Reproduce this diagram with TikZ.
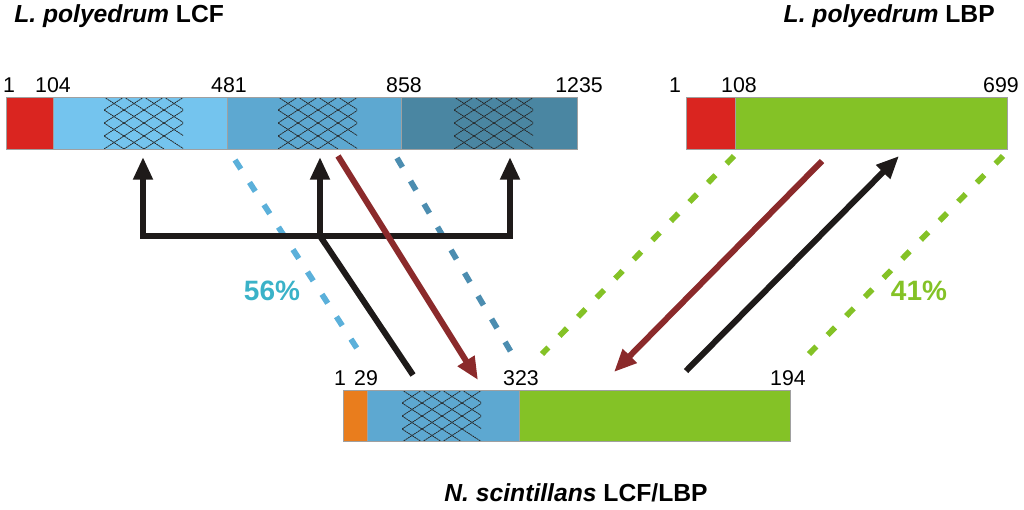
\documentclass[tikz,border=0pt]{standalone}
\usepackage{fontspec}
\setmainfont{Liberation Sans}
\usetikzlibrary{arrows.meta}
\definecolor{cRed}{HTML}{DA2520}
\definecolor{cLBlue}{HTML}{74C4EE}
\definecolor{cMBlue}{HTML}{5DA8D1}
\definecolor{cDBlue}{HTML}{4A86A2}
\definecolor{cGreen}{HTML}{84C226}
\definecolor{cOrange}{HTML}{E97D1D}
\definecolor{cDashL}{HTML}{5BB0DA}
\definecolor{cDashM}{HTML}{4C8DB0}
\definecolor{cArrR}{HTML}{8B2A2B}
\definecolor{cArrK}{HTML}{1E1A19}
\definecolor{cPct}{HTML}{3AB2C8}
\definecolor{cEdge}{HTML}{A0A0A0}
\tikzset{
  seg/.style={draw=cEdge, line width=0.5pt},
  num/.style={font=\fontsize{16}{19}\selectfont, inner sep=0pt, anchor=base},
  ttl/.style={font=\fontsize{18.5}{22}\selectfont\bfseries, inner sep=0pt, anchor=base},
  pct/.style={font=\fontsize{21}{25}\selectfont\bfseries, inner sep=0pt},
  hline/.style={black!85, line width=0.6pt, dash pattern=on 1.3pt off 0.5pt},
  blk/.style={cArrK, line width=4.5pt},
  redarr/.style={cArrR, line width=4.5pt},
  tip/.style={-{Triangle[length=17pt,width=14pt]}},
  dsh/.style={line width=4.3pt, dash pattern=on 8pt off 12pt},
}
\newcommand{\hatchbox}[4]{%
  \begin{scope}
    \clip (#1,#2) rectangle (#3,#4);
    \foreach \i in {-5,...,6}{
      \draw[hline] ({#1+\i*20},#2) -- ++(80,52);
      \draw[hline] ({#1+\i*20},#2) -- ++(-80,52);
    }
  \end{scope}}
\begin{document}
\begin{tikzpicture}[x=0.75pt,y=-0.75pt]
\useasboundingbox (0,0) rectangle (1024,510);
% ---------- top-left bar (LCF)
\fill[cRed] (6,97) rectangle (53,149);
\fill[cLBlue] (53,97) rectangle (227,149);
\fill[cMBlue] (227,97) rectangle (401,149);
\fill[cDBlue] (401,97) rectangle (577,149);
\hatchbox{104}{97}{183}{149}
\hatchbox{278}{97}{357}{149}
\hatchbox{454}{97}{533}{149}
\draw[seg] (53,97) -- (53,149) (227,97) -- (227,149) (401,97) -- (401,149);
\draw[seg] (6,97) rectangle (577,149);
\node[num] (n1) at (9,93) {1};
\node[num] (n104) at (53,93) {104};
\node[num] (n481) at (229,93) {481};
\node[num] (n858) at (404,93) {858};
\node[num] (n1235) at (579,93) {1235};
\node[ttl, anchor=base west] (t1) at (14,23) {\itshape L. polyedrum\/\upshape{} LCF};
% ---------- top-right bar (LBP)
\fill[cRed] (686,97) rectangle (735,149);
\fill[cGreen] (735,97) rectangle (1007,149);
\draw[seg] (735,97) -- (735,149);
\draw[seg] (686,97) rectangle (1007,149);
\node[num] (m1) at (675,93) {1};
\node[num] (m108) at (739,93) {108};
\node[num] (m699) at (1001,93) {699};
\node[ttl, anchor=base east] (t2) at (995,23) {\itshape L. polyedrum\/\upshape{} LBP};
% ---------- bottom bar
\fill[cOrange] (343,390) rectangle (367,441);
\fill[cMBlue] (367,390) rectangle (519,441);
\fill[cGreen] (519,390) rectangle (790,441);
\hatchbox{402}{390}{481}{441}
\draw[seg] (367,390) -- (367,441) (519,390) -- (519,441);
\draw[seg] (343,390) rectangle (790,441);
\node[num] (b1) at (340,385) {1};
\node[num] (b29) at (366,385) {29};
\node[num] (b323) at (521,385) {323};
\node[num] (b194) at (788,385) {194};
\node[ttl] (t3) at (576,501) {\itshape N. scintillans\/\upshape{} LCF/LBP};
% ---------- coordinates
\coordinate (a1) at (143,157);
\coordinate (a2) at (320,157);
\coordinate (a3) at (510,157);
\coordinate (c1) at (143,236);
\coordinate (c2) at (320,236);
\coordinate (c3) at (510,236);
\coordinate (k1) at (413,375);
\coordinate (r1s) at (338,156);
\coordinate (r1e) at (478,380);
\coordinate (r2s) at (822,161);
\coordinate (r2e) at (614,372);
\coordinate (k2s) at (686,371);
\coordinate (k2e) at (899,156);
\coordinate (dl1) at (235,160);
\coordinate (dl2) at (358,350);
\coordinate (dm1) at (397,158);
\coordinate (dm2) at (511,352);
\coordinate (g1) at (734,156);
\coordinate (g2) at (542,354);
\coordinate (g3) at (1003,156);
\coordinate (g4) at (809,354);
% ---------- dashed similarity lines
\draw[dsh, cDashL] (dl1) -- (dl2);
\draw[dsh, cDashM] (dm1) -- (dm2);
\draw[dsh, cGreen] (g1) -- (g2);
\draw[dsh, cGreen] (g3) -- (g4);
% ---------- black bracket arrows
\draw[blk, {Triangle[length=17pt,width=14pt]}-{Triangle[length=17pt,width=14pt]}, line join=miter] (a1) -- (c1) -- (c3) -- (a3);
\draw[blk, tip] (c2) -- (a2);
\draw[blk] (c2) -- (k1);
\draw[redarr, tip] (r1s) -- (r1e);
\draw[redarr, tip] (r2s) -- (r2e);
\draw[blk, tip] (k2s) -- (k2e);
% ---------- percentages
\node[pct, text=cPct] (p56) at (272,291) {56\%};
\node[pct, text=cGreen] (p41) at (919,291) {41\%};
\end{tikzpicture}
\end{document}
